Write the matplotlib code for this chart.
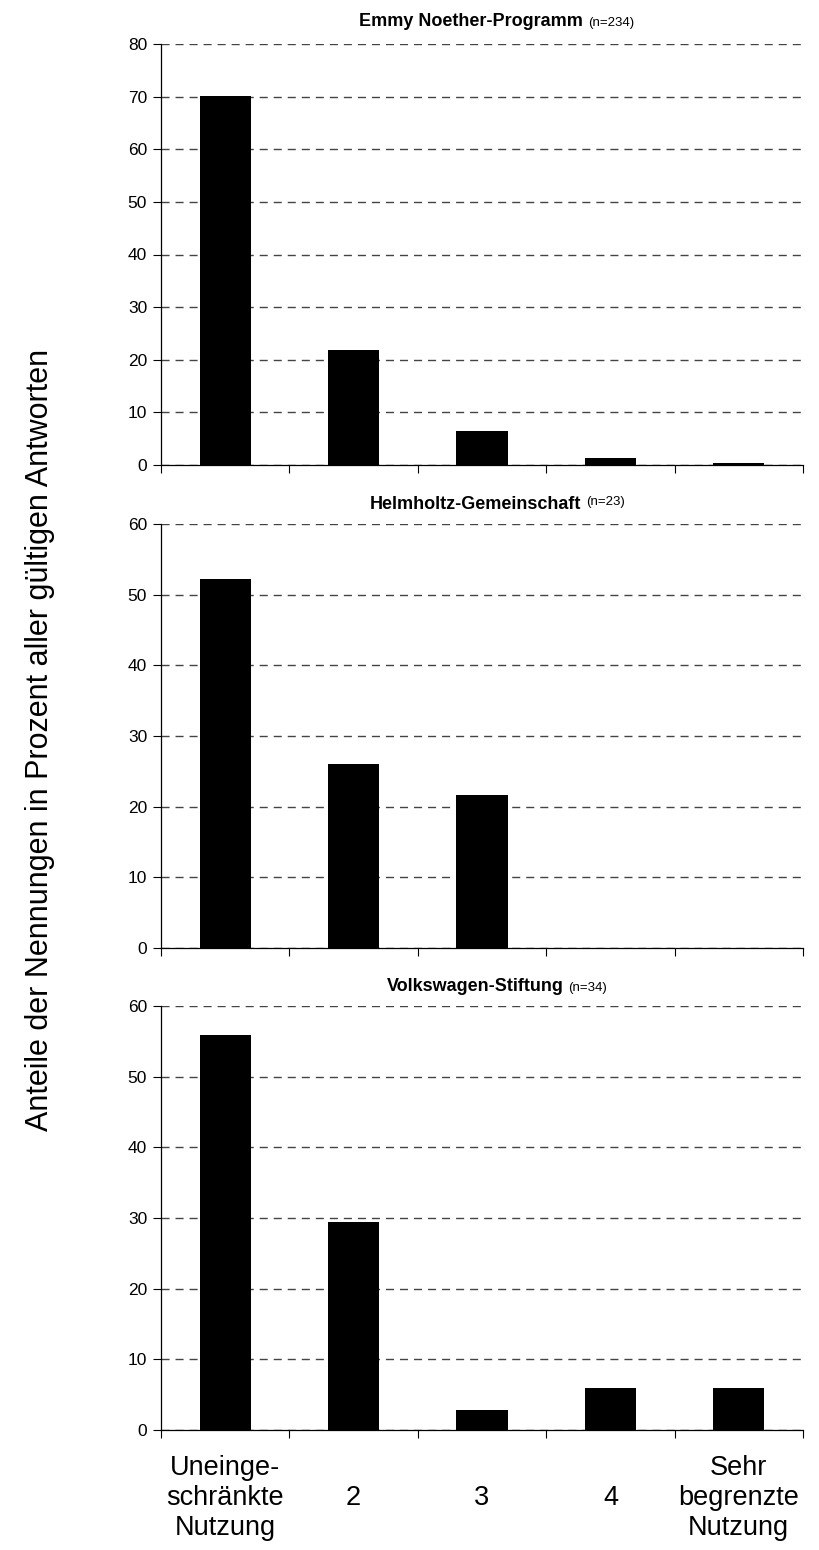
import numpy as np
import matplotlib
matplotlib.use("Agg")
from matplotlib import pyplot as plt

plt.rcParams['font.family'] = ['Liberation Sans', 'DejaVu Sans']

# data
categories = ["Uneinge-\nschränkte\nNutzung", "2", "3", "4", "Sehr\nbegrenzte\nNutzung"]
titles = ["Emmy Noether-Programm", "Helmholtz-Gemeinschaft", "Volkswagen-Stiftung"]
n_labels = ["(n=234)", "(n=23)", "(n=34)"]
emmy_noether = [70.1, 21.8, 6.4, 1.3, 0.4]
helmholtz = [52.2, 26.1, 21.7, 0.0, 0.0]
volkswagen = [55.9, 29.4, 2.9, 5.9, 5.9]
series = [emmy_noether, helmholtz, volkswagen]
y_max = [80, 60, 60]

W, H = 820, 1550
fig = plt.figure(figsize=(W / 100, H / 100), dpi=100)

# axes boxes in figure fraction (left, bottom, width, height)
boxes = [
    (161 / W, 1 - 465 / H, 642 / W, 421 / H),
    (161 / W, 1 - 948 / H, 642 / W, 424 / H),
    (161 / W, 1 - 1430 / H, 642 / W, 424 / H),
]
title_gap = [18, 15, 15]   # px between axes top and title baseline
n_raise = [0, 4, 0]        # px the n-label sits above the bold baseline
title_center = 497         # px, horizontal centre of the whole title

x = np.arange(len(categories))
title_pairs = []
for i, (vals, box) in enumerate(zip(series, boxes)):
    ax = fig.add_axes(box)
    ax.bar(x, vals, width=0.4, color='black', zorder=3)
    ax.set_xlim(-0.5, len(categories) - 0.5)
    ax.set_ylim(0, y_max[i])
    ax.set_yticks(np.arange(0, y_max[i] + 1, 10))
    ax.set_xticks(np.arange(len(categories) + 1) - 0.5)
    ax.set_xticklabels([])
    ax.tick_params(axis='both', direction='out', length=6, width=0.8, color='black',
                   labelsize=12.5, pad=4)
    ax.yaxis.grid(True, linestyle=(0, (5.8, 4.3)), color='#444444', linewidth=1.0, zorder=0)
    ax.set_axisbelow(True)
    for side in ['top', 'right']:
        ax.spines[side].set_visible(False)
    for side in ['left', 'bottom']:
        ax.spines[side].set_linewidth(0.9)

    top_px = H * (box[1] + box[3])
    y_base = (top_px + title_gap[i]) / H
    t1 = fig.text(0, y_base, titles[i], ha='left', va='baseline',
                  fontsize=13, fontweight='bold')
    t2 = fig.text(0, y_base + n_raise[i] / H, n_labels[i], ha='left', va='baseline',
                  fontsize=9.5)
    title_pairs.append((t1, t2))

    if i == 2:
        for xi, lab in zip(x, categories):
            ax.annotate(lab, xy=(xi, 0), xycoords=('data', 'axes fraction'),
                        xytext=(0, -49), textcoords='offset points',
                        ha='center', va='center', fontsize=19.5, linespacing=1.2)

# centre each title (bold part + n-label) on the same x
fig.canvas.draw()
r = fig.canvas.get_renderer()
gap = 5
for t1, t2 in title_pairs:
    w1 = t1.get_window_extent(r).width
    w2 = t2.get_window_extent(r).width
    x0 = title_center - (w1 + gap + w2) / 2
    t1.set_x(x0 / W)
    t2.set_x((x0 + w1 + gap) / W)

fig.text(40 / W, 1 - 740 / H, "Anteile der Nennungen in Prozent aller gültigen Antworten",
         rotation=90, ha='center', va='center', fontsize=22)

fig.savefig("out.png", dpi=100)
